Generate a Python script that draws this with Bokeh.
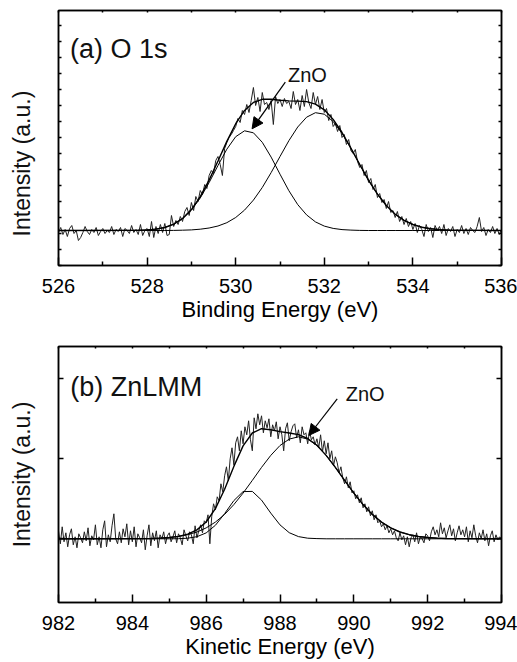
import numpy as np
from bokeh.plotting import figure
from bokeh.layouts import column
from bokeh.models import (LinearAxis, FixedTicker, Range1d, Label, Arrow,
                          NormalHead)
from bokeh.embed import file_html
from bokeh.resources import INLINE

FONT = "Liberation Sans"

# ---------------- Panel (a) O 1s ----------------
o1s_start, o1s_step = 526.0, 0.05
o1s_counts = [
    -2, 3, -4, 1, -6, 2, 5, -3, 0, -10, -7, -2, 4, -1, -4, 1, -2, 3, -5, -1,
    2, -3, 0, -2, 4, -4, 1, -1, 3, -6, 2, 0, -3, 5, -2, 1, -4, 6, -5, 0,
    2, -6, 9, -7, 4, -3, 6, -2, 7, -5, -4, 15, 4, 10, 6, 14, 9, 19, 23, 15,
    28, 20, 34, 29, 40, 36, 46, 42, 55, 60, 57, 70, 74, 66, 55, 82, 88, 93, 96, 100,
    104, 112, 108, 120, 116, 126, 118, 130, 143, 125, 133, 119, 138, 126, 128, 121, 130, 106, 134, 127,
    131, 124, 132, 127, 129, 122, 139, 126, 131, 120, 135, 124, 141, 128, 122, 138, 126, 134, 121, 131,
    118, 122, 110, 116, 104, 107, 99, 105, 93, 96, 86, 91, 80, 77, 81, 69, 63, 66, 55, 60,
    48, 52, 41, 46, 33, 37, 28, 31, 22, 29, 18, 20, 13, 19, 9, 14, 6, 12, 4, 9,
    1, 7, -2, 5, 1, -6, 6, -1, 3, -7, 5, 0, 4, -3, 6, -5, 2, -1, 4, -6,
    1, -2, 5, -3, 2, -4, 3, 0, -2, 4, 13, -1, 3, -5, 1, -2, 4, -3, 2, -4,
    1,
]
o1s_fit_energy = [526.0, 527.8, 528.0, 528.2, 528.4, 528.6, 528.8, 529.0, 529.2, 529.4,
                  529.6, 529.8, 530.0, 530.2, 530.4, 530.6, 530.8, 531.0, 531.2, 531.4,
                  531.6, 531.8, 532.0, 532.2, 532.4, 532.6, 532.8, 533.0, 533.2, 533.4,
                  533.6, 533.8, 534.0, 534.2, 534.4, 534.6, 534.8, 536.0]
o1s_fit_zno = [0, 0.2, 0.6, 1.4, 3.0, 6.2, 11.7, 20.3, 32.5, 47.9,
               65.0, 81.3, 93.8, 99.7, 97.7, 88.2, 73.4, 56.3, 39.8, 25.9,
               15.6, 8.6, 4.4, 2.1, 0.9, 0.4, 0.1, 0, 0, 0,
               0, 0, 0, 0, 0, 0, 0, 0]
o1s_fit_other = [0, 0, 0, 0, 0, 0.1, 0.3, 0.6, 1.3, 2.5,
                 4.5, 7.8, 13.0, 20.4, 30.4, 43.0, 57.9, 74.0, 89.8, 103.5,
                 113.3, 117.8, 116.3, 109.0, 97.1, 82.1, 65.9, 50.2, 36.4, 25.0,
                 16.3, 10.1, 6.0, 3.3, 1.8, 0.9, 0.4, 0]
o1s_fit_total = [0, 0.2, 0.6, 1.4, 3.0, 6.3, 12.0, 20.9, 33.8, 50.4,
                 69.5, 89.1, 106.8, 120.1, 128.1, 131.2, 131.3, 130.3, 129.6, 129.4,
                 128.9, 126.4, 120.7, 111.1, 98.0, 82.5, 66.0, 50.2, 36.4, 25.0,
                 16.3, 10.1, 6.0, 3.3, 1.8, 0.9, 0.4, 0]
o1s_xticks = [526, 528, 530, 532, 534, 536]
o1s_xminor = [527, 529, 531, 533, 535]
o1s_yticks = [-35, -19, -3, 13, 29, 45, 61, 77, 93, 109, 125, 141, 157, 173, 189, 205]

# ---------------- Panel (b) Zn LMM ----------------
lmm_start, lmm_step = 982.0, 0.05
lmm_counts = [
    8, -5, 12, -3, 6, -8, 4, 10, -6, 2, -9, 5, 1, -4, 7, -2, 11, -7, 3, -1,
    14, -6, 2, -9, 9, 18, -8, 4, -3, 13, 25, 0, -5, 7, -4, 10, 2, 15, -6, 8,
    -3, 12, -8, 5, 1, -4, 9, -11, 3, 14, -7, 6, -2, 8, -9, 4, 0, 7, -5, 3,
    6, -3, 2, 8, -4, 5, 1, -6, 9, 3, -2, 7, 4, -5, 13, 1, 8, 14, 6, 18,
    16, 24, -5, 22, 35, 29, 42, 38, 55, 47, 63, 72, 58, 80, 91, 74, 96, 102, 88, 108,
    95, 112, 104, 118, 99, 88, 121, 110, 125, 114, 123, 106, 118, 111, 120, 102, 114, 108, 117, 100,
    112, 104, 88, 110, 116, 98, 107, 113, 115, 101, 109, 96, 112, 104, 106, 95, 108, 99, 102, 94,
    100, 91, 104, 87, 98, 85, 96, 80, 88, 73, 82, 76, 66, 72, 61, 55, 62, 51, 57, 46,
    48, 40, 44, 36, 41, 31, 35, 27, 32, 23, 28, 19, 24, 16, 18, 12, 15, 9, 13, 6,
    10, 4, 8, 1, -2, 6, -1, 3, -6, 2, -8, 1, 4, -3, 6, -5, 2, 0, -4, 5,
    3, -2, 7, 12, 4, 9, 2, 16, 5, 11, 1, 8, 14, 3, 10, -2, 6, 13, 4, 9,
    2, 12, -3, 8, 1, 14, 3, -4, 6, 0, 9, -2, 5, -7, 3, 8, -3, 4, -1, 2,
    0,
]
lmm_fit_energy = [982.0, 984.5, 984.75, 985.0, 985.25, 985.5, 985.75, 986.0, 986.25, 986.5,
                  986.75, 987.0, 987.25, 987.5, 987.75, 988.0, 988.25, 988.5, 988.75, 989.0,
                  989.25, 989.5, 989.75, 990.0, 990.25, 990.5, 990.75, 991.0, 991.25, 991.5,
                  991.75, 992.0, 992.25, 992.5, 994.0]
lmm_fit_other = [0, 0, 0, 0, 0.1, 0.6, 2.1, 5.9, 13.5, 25.2,
                 38.2, 47.2, 47.4, 38.7, 25.7, 13.9, 6.1, 2.2, 0.6, 0.2,
                 0, 0, 0, 0, 0, 0, 0, 0, 0, 0,
                 0, 0, 0, 0, 0]
lmm_fit_zno = [0, 0.3, 0.7, 1.3, 2.3, 4.1, 6.8, 10.9, 16.7, 24.4,
               34.2, 45.7, 58.4, 71.4, 83.4, 93.3, 99.7, 102.0, 99.7, 93.3,
               83.4, 71.4, 58.4, 45.7, 34.2, 24.4, 16.7, 10.9, 6.8, 4.1,
               2.3, 1.3, 0.7, 0.3, 0]
lmm_fit_total = [0, 0.3, 0.7, 1.3, 2.4, 4.7, 8.9, 16.8, 30.2, 49.6,
                 72.4, 92.9, 105.8, 110.1, 109.1, 107.2, 105.8, 104.2, 100.3, 93.5,
                 83.4, 71.4, 58.4, 45.7, 34.2, 24.4, 16.7, 10.9, 6.8, 4.1,
                 2.3, 1.3, 0.7, 0.3, 0]
lmm_xticks = [982, 984, 986, 988, 990, 992, 994]
lmm_xminor = [983, 985, 987, 989, 991, 993]
lmm_yticks = [0, 80, 160]

YLABEL = "Intensity (a.u.)"
NBSP = "\u00a0"


def hide_labels(ax):
    ax.major_label_text_font_size = "1px"
    ax.major_label_text_color = None
    ax.major_label_standoff = 0


def style_axis(ax, ticker, tin, labels=False, minor=None):
    ax.ticker = ticker
    ax.axis_line_color = "black"
    ax.axis_line_width = 1.5
    ax.major_tick_line_color = "black"
    ax.major_tick_line_width = 1.5
    ax.major_tick_in = tin
    ax.major_tick_out = 0
    ax.minor_tick_line_color = "black" if minor else None
    ax.minor_tick_line_width = 1.5
    ax.minor_tick_in = minor or 0
    ax.minor_tick_out = 0
    if not labels:
        hide_labels(ax)
    return ax


def panel(xr, yr, height, btop, bbottom, xticks, xminor, yticks, ytin, xlabel,
          energy, counts, fit_e, fit_total, fit_a, fit_b, title, title_xy,
          zno_xy, arrow_xy, ylabel_text):
    p = figure(width=517, height=height, x_range=Range1d(*xr), y_range=Range1d(*yr),
               output_backend="svg", toolbar_location=None,
               min_border_left=58, min_border_right=16,
               min_border_top=btop, min_border_bottom=bbottom,
               x_axis_location=None, y_axis_location=None)
    p.grid.visible = False
    p.outline_line_color = "black"
    p.outline_line_width = 1.5
    p.background_fill_color = "white"
    p.border_fill_color = "white"

    xb = LinearAxis(axis_label=xlabel)
    style_axis(xb, FixedTicker(ticks=xticks, minor_ticks=xminor), 8, labels=True, minor=4)
    xb.major_label_text_font = FONT
    xb.major_label_text_font_size = "20px"
    xb.major_label_text_color = "black"
    xb.major_label_standoff = 13
    xb.axis_label_text_font = FONT
    xb.axis_label_text_font_size = "22px"
    xb.axis_label_text_font_style = "normal"
    xb.axis_label_text_color = "black"
    xb.axis_label_standoff = 1
    p.add_layout(xb, "below")

    xt = LinearAxis()
    style_axis(xt, FixedTicker(ticks=sorted(xticks + xminor)), 2)
    p.add_layout(xt, "above")

    yl = LinearAxis(axis_label=ylabel_text)
    style_axis(yl, FixedTicker(ticks=yticks), ytin)
    yl.axis_label_text_font = FONT
    yl.axis_label_text_font_size = "23px"
    yl.axis_label_text_font_style = "normal"
    yl.axis_label_text_color = "#111111"
    yl.axis_label_standoff = 24
    p.add_layout(yl, "left")

    yr_ax = LinearAxis()
    style_axis(yr_ax, FixedTicker(ticks=yticks), ytin)
    p.add_layout(yr_ax, "right")

    p.line(energy, counts, line_color="#222222", line_width=1)
    p.line(fit_e, fit_a, line_color="black", line_width=1)
    p.line(fit_e, fit_b, line_color="black", line_width=1)
    p.line(fit_e, fit_total, line_color="black", line_width=1.4)

    p.add_layout(Label(x=title_xy[0], y=title_xy[1], text=title, text_font=FONT,
                       text_font_size="27px", text_color="#111111",
                       text_baseline="alphabetic"))
    p.add_layout(Label(x=zno_xy[0], y=zno_xy[1], text="ZnO", text_font=FONT,
                       text_font_size="20px", text_color="#111111",
                       text_baseline="alphabetic"))
    p.add_layout(Arrow(end=NormalHead(size=11, fill_color="black", line_color="black",
                                      line_width=1),
                       x_start=arrow_xy[0], y_start=arrow_xy[1],
                       x_end=arrow_xy[2], y_end=arrow_xy[3],
                       line_color="black", line_width=1.2))
    return p


o1s_energy = o1s_start + o1s_step * np.arange(len(o1s_counts))
lmm_energy = lmm_start + lmm_step * np.arange(len(lmm_counts))

# trailing no-break spaces shift the centred axis title of panel (a) downwards
pa = panel((526, 536), (-35, 220), 330, 10, 65, o1s_xticks, o1s_xminor, o1s_yticks, 3,
           "Binding Energy (eV)", o1s_energy, o1s_counts, o1s_fit_energy,
           o1s_fit_total, o1s_fit_zno, o1s_fit_other, "(a) O 1s", (526.26, 182),
           (531.18, 156), (531.12, 148.3, 530.37, 101.7), YLABEL + NBSP * 8)

pb = panel((982, 994), (-63.7, 192.3), 332, 16, 60, lmm_xticks, lmm_xminor, lmm_yticks, 5,
           "Kinetic Energy (eV)", lmm_energy, lmm_counts, lmm_fit_energy,
           lmm_fit_total, lmm_fit_zno, lmm_fit_other, "(b) ZnLMM", (982.32, 152),
           (989.78, 144.8), (989.55, 140, 988.78, 103.3), YLABEL)

layout = column(pa, pb, spacing=0)
open("out.html", "w").write(file_html(layout, INLINE))
